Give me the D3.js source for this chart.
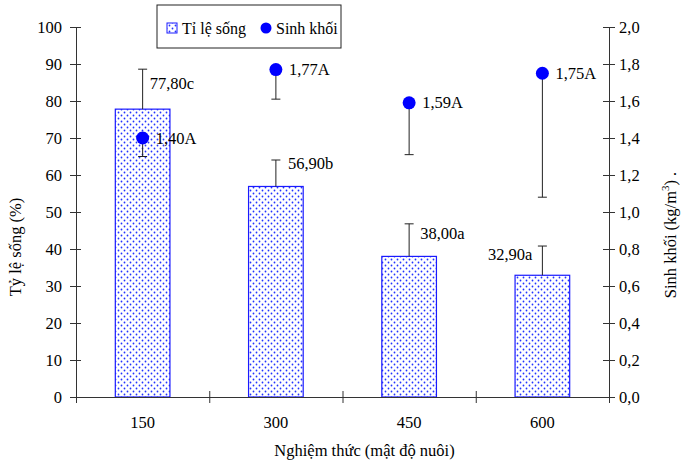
<!DOCTYPE html>
<html>
<head>
<meta charset="utf-8">
<script src="https://cdn.jsdelivr.net/npm/d3@7"></script>
<style>
  body { margin: 0; background: #fff; }
  text { font-family: "Liberation Serif", "Times New Roman", serif; fill: #000; }
</style>
</head>
<body>
<div id="viz"></div>
<script>
(function() {

    // data
    var categories = ["150", "300", "450", "600"];
    var survival = [77.8, 56.9, 38.0, 32.9];
    var survivalSd = [10.8, 7.15, 8.8, 7.9];
    var survivalLabels = ["77,80c", "56,90b", "38,00a", "32,90a"];
    var biomass = [1.40, 1.77, 1.59, 1.75];
    var biomassSd = [0.10, 0.16, 0.28, 0.67];
    var biomassLabels = ["1,40A", "1,77A", "1,59A", "1,75A"];
    var leftTicks = [0, 10, 20, 30, 40, 50, 60, 70, 80, 90, 100];
    var rightTicks = [0, 0.2, 0.4, 0.6, 0.8, 1.0, 1.2, 1.4, 1.6, 1.8, 2.0];

    var width = 685;
    var height = 460;
    var left = 76, right = 609, top = 27, bottom = 397;
    var fs = "16.5px";

    //label nudges for the bar labels (they are hand-placed in the original)
    var barLabelDx = [7, 12, 11, -10];
    var barLabelDy = [20, 9, 15, 14];

    var svg = d3.select("#viz")
        .append("svg")
        .attr("width", width)
        .attr("height", height)

    //dotted pattern for the bars
    var pat = svg.append("defs").append("pattern")
        .attr("id", "dots")
        .attr("patternUnits", "userSpaceOnUse")
        .attr("width", 6)
        .attr("height", 6)
    pat.append("rect").attr("width", 6).attr("height", 6).attr("fill", "#fff")
    pat.append("circle").attr("cx", 1.5).attr("cy", 1.5).attr("r", 0.9).attr("fill", "#2233ff")
    pat.append("circle").attr("cx", 4.5).attr("cy", 4.5).attr("r", 0.9).attr("fill", "#2233ff")

    var x = d3.scaleBand().domain(categories).range([left, right])
    var yLeft = d3.scaleLinear().domain([0, 100]).range([bottom, top])
    var yRight = d3.scaleLinear().domain([0, 2]).range([bottom, top])
    var barW = x.bandwidth() * 0.41

    function fmt(v) { return v.toFixed(1).replace(".", ","); }

    //bars
    svg.selectAll(".bar")
        .data(survival)
        .enter().append("rect")
        .attr("class", "bar")
        .attr("x", function(d, i) { return x(categories[i]) + x.bandwidth() / 2 - barW / 2 })
        .attr("y", function(d) { return yLeft(d) })
        .attr("width", barW)
        .attr("height", function(d) { return bottom - yLeft(d) })
        .attr("fill", "url(#dots)")
        .attr("stroke", "#1a1aff")
        .attr("stroke-width", 1.2)

    //error bars for survival (upwards)
    var errS = svg.selectAll(".errS")
        .data(survival)
        .enter().append("g")
        .attr("class", "errS")
        .attr("transform", function(d, i) { return "translate(" + (x(categories[i]) + x.bandwidth() / 2) + ",0)" })
    errS.append("line")
        .attr("y1", function(d) { return yLeft(d) })
        .attr("y2", function(d, i) { return yLeft(d + survivalSd[i]) })
        .attr("stroke", "#222")
    errS.append("line")
        .attr("x1", -4.5).attr("x2", 4.5)
        .attr("y1", function(d, i) { return yLeft(d + survivalSd[i]) })
        .attr("y2", function(d, i) { return yLeft(d + survivalSd[i]) })
        .attr("stroke", "#222")
    errS.append("text")
        .attr("x", function(d, i) { return barLabelDx[i] })
        .attr("y", function(d, i) { return yLeft(d + survivalSd[i]) + barLabelDy[i] })
        .attr("text-anchor", function(d, i) { return barLabelDx[i] < 0 ? "end" : "start" })
        .attr("font-size", fs)
        .text(function(d, i) { return survivalLabels[i] })

    //error bars for biomass (downwards)
    var errB = svg.selectAll(".errB")
        .data(biomass)
        .enter().append("g")
        .attr("class", "errB")
        .attr("transform", function(d, i) { return "translate(" + (x(categories[i]) + x.bandwidth() / 2) + ",0)" })
    errB.append("line")
        .attr("y1", function(d) { return yRight(d) })
        .attr("y2", function(d, i) { return yRight(d - biomassSd[i]) })
        .attr("stroke", "#222")
    errB.append("line")
        .attr("x1", -4.5).attr("x2", 4.5)
        .attr("y1", function(d, i) { return yRight(d - biomassSd[i]) })
        .attr("y2", function(d, i) { return yRight(d - biomassSd[i]) })
        .attr("stroke", "#222")
    errB.append("circle")
        .attr("cy", function(d) { return yRight(d) })
        .attr("r", 6.5)
        .attr("fill", "#0000ff")
    errB.append("text")
        .attr("x", 13)
        .attr("y", function(d) { return yRight(d) + 5.5 })
        .attr("font-size", fs)
        .text(function(d, i) { return biomassLabels[i] })

    //axes
    var gx = svg.append("g")
        .attr("transform", "translate(0," + bottom + ")")
        .call(d3.axisBottom(d3.scaleLinear().domain([0, 4]).range([left, right]))
            .ticks(4).tickSize(6).tickSizeOuter(0).tickFormat(""))
    gx.selectAll(".tick line").attr("y1", -6)
    svg.selectAll(".xlab")
        .data(categories)
        .enter().append("text")
        .attr("x", function(d) { return x(d) + x.bandwidth() / 2 })
        .attr("y", bottom + 31)
        .attr("text-anchor", "middle")
        .attr("font-size", fs)
        .text(function(d) { return d })

    var gl = svg.append("g")
        .attr("transform", "translate(" + left + ",0)")
        .call(d3.axisLeft(yLeft).tickValues(leftTicks).tickSize(6).tickSizeOuter(0).tickPadding(8))
    gl.selectAll(".tick line").attr("x1", 5)

    var gr = svg.append("g")
        .attr("transform", "translate(" + right + ",0)")
        .call(d3.axisRight(yRight).tickValues(rightTicks).tickFormat(fmt).tickSize(6).tickSizeOuter(0).tickPadding(4))
    gr.selectAll(".tick line").attr("x1", -6)

    svg.selectAll(".domain, .tick line").attr("stroke", "#333")
    svg.selectAll(".tick text").attr("font-size", fs).attr("fill", "#000")

    //axis titles
    svg.append("text")
        .attr("transform", "translate(21,247) rotate(-90)")
        .attr("text-anchor", "middle")
        .attr("font-size", fs)
        .text("Tỷ lệ sống (%)")

    var rt = svg.append("text")
        .attr("transform", "translate(676,235) rotate(-90)")
        .attr("text-anchor", "middle")
        .attr("font-size", fs)
    rt.append("tspan").text("Sinh khối (kg/m")
    rt.append("tspan").attr("font-size", "11px").attr("dy", -7).text("3")
    rt.append("tspan").attr("dy", 7).text(") .")

    svg.append("text")
        .attr("x", (left + right) / 2 + 22)
        .attr("y", 456)
        .attr("text-anchor", "middle")
        .attr("font-size", fs)
        .text("Nghiệm thức (mật độ nuôi)")

    //legend
    var lg = svg.append("g")
    lg.append("rect")
        .attr("x", 157).attr("y", 5).attr("width", 184).attr("height", 43)
        .attr("fill", "#fff").attr("stroke", "#222")
    lg.append("rect")
        .attr("x", 167).attr("y", 23).attr("width", 10).attr("height", 10)
        .attr("fill", "url(#dots)").attr("stroke", "#1a1aff")
    lg.append("text").attr("x", 182).attr("y", 34).attr("font-size", "16px").text("Tỉ lệ sống")
    lg.append("circle").attr("cx", 266).attr("cy", 28).attr("r", 5.5).attr("fill", "#0000ff")
    lg.append("text").attr("x", 276).attr("y", 34).attr("font-size", "16px").text("Sinh khối")

})();
</script>
</body>
</html>
